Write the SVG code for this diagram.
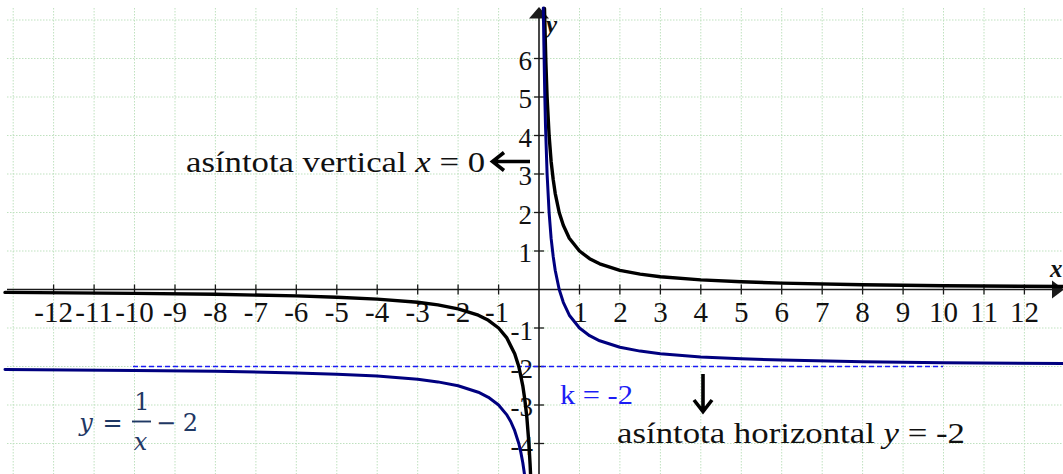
<svg xmlns="http://www.w3.org/2000/svg" width="1063" height="474" viewBox="0 0 1063 474">
<style>
.grid line{stroke:#bfe1bf;stroke-width:1;stroke-dasharray:1.5 1.5}
.axis{stroke:#1a1a1a;stroke-width:1.6;fill:none}
.tick{stroke:#1a1a1a;stroke-width:1.3}
.lab{font-family:"Liberation Serif",serif;fill:#111}
.xl{text-anchor:middle;font-size:29px}
.yl{text-anchor:end;font-size:27px}
.ann{font-family:"Liberation Serif",serif;font-size:29.5px;fill:#111}
.it{font-style:italic}
.black{stroke:#000;stroke-width:3.4;fill:none;stroke-linejoin:round;stroke-linecap:round}
.navy{stroke:#00007f;stroke-width:3;fill:none;stroke-linejoin:round;stroke-linecap:round}
.arr{stroke:#000;stroke-width:3.6;fill:none;stroke-linecap:butt;stroke-linejoin:miter}
.frm{font-family:"DejaVu Serif",serif;font-size:24px;fill:#1f3864;text-anchor:middle}
</style>
<rect x="0" y="0" width="1063" height="474" fill="#ffffff"/>
<g id="grid" class="grid">
<line x1="13.2" y1="8" x2="13.2" y2="474"/><line x1="53.6" y1="8" x2="53.6" y2="474"/><line x1="94.1" y1="8" x2="94.1" y2="474"/><line x1="134.5" y1="8" x2="134.5" y2="474"/><line x1="175" y1="8" x2="175" y2="474"/><line x1="215.4" y1="8" x2="215.4" y2="474"/><line x1="255.9" y1="8" x2="255.9" y2="474"/><line x1="296.3" y1="8" x2="296.3" y2="474"/><line x1="336.8" y1="8" x2="336.8" y2="474"/><line x1="377.2" y1="8" x2="377.2" y2="474"/><line x1="417.7" y1="8" x2="417.7" y2="474"/><line x1="458.1" y1="8" x2="458.1" y2="474"/><line x1="498.6" y1="8" x2="498.6" y2="474"/><line x1="579.5" y1="8" x2="579.5" y2="474"/><line x1="619.9" y1="8" x2="619.9" y2="474"/><line x1="660.4" y1="8" x2="660.4" y2="474"/><line x1="700.8" y1="8" x2="700.8" y2="474"/><line x1="741.3" y1="8" x2="741.3" y2="474"/><line x1="781.7" y1="8" x2="781.7" y2="474"/><line x1="822.2" y1="8" x2="822.2" y2="474"/><line x1="862.6" y1="8" x2="862.6" y2="474"/><line x1="903.1" y1="8" x2="903.1" y2="474"/><line x1="943.5" y1="8" x2="943.5" y2="474"/><line x1="984" y1="8" x2="984" y2="474"/><line x1="1024.4" y1="8" x2="1024.4" y2="474"/>
<line x1="7" y1="20" x2="1063" y2="20"/><line x1="7" y1="58.5" x2="1063" y2="58.5"/><line x1="7" y1="97" x2="1063" y2="97"/><line x1="7" y1="135.5" x2="1063" y2="135.5"/><line x1="7" y1="174" x2="1063" y2="174"/><line x1="7" y1="212.5" x2="1063" y2="212.5"/><line x1="7" y1="251" x2="1063" y2="251"/><line x1="7" y1="328" x2="1063" y2="328"/><line x1="7" y1="366.5" x2="1063" y2="366.5"/><line x1="7" y1="405" x2="1063" y2="405"/><line x1="7" y1="443.5" x2="1063" y2="443.5"/>
</g>
<g id="axes">
<line class="axis" x1="7" y1="289.5" x2="1058" y2="289.5"/>
<line class="axis" x1="539" y1="12" x2="539" y2="474"/>
<polygon points="539,7 529,18.5 549,18.5" fill="#1a1a1a"/>
<polygon points="1064,289.5 1052,280.5 1052,298.5" fill="#1a1a1a"/>
<g class="tick">
<line x1="53.6" y1="284.5" x2="53.6" y2="294.5"/><line x1="94.1" y1="284.5" x2="94.1" y2="294.5"/><line x1="134.5" y1="284.5" x2="134.5" y2="294.5"/><line x1="175" y1="284.5" x2="175" y2="294.5"/><line x1="215.4" y1="284.5" x2="215.4" y2="294.5"/><line x1="255.9" y1="284.5" x2="255.9" y2="294.5"/><line x1="296.3" y1="284.5" x2="296.3" y2="294.5"/><line x1="336.8" y1="284.5" x2="336.8" y2="294.5"/><line x1="377.2" y1="284.5" x2="377.2" y2="294.5"/><line x1="417.7" y1="284.5" x2="417.7" y2="294.5"/><line x1="458.1" y1="284.5" x2="458.1" y2="294.5"/><line x1="498.6" y1="284.5" x2="498.6" y2="294.5"/><line x1="579.5" y1="284.5" x2="579.5" y2="294.5"/><line x1="619.9" y1="284.5" x2="619.9" y2="294.5"/><line x1="660.4" y1="284.5" x2="660.4" y2="294.5"/><line x1="700.8" y1="284.5" x2="700.8" y2="294.5"/><line x1="741.3" y1="284.5" x2="741.3" y2="294.5"/><line x1="781.7" y1="284.5" x2="781.7" y2="294.5"/><line x1="822.2" y1="284.5" x2="822.2" y2="294.5"/><line x1="862.6" y1="284.5" x2="862.6" y2="294.5"/><line x1="903.1" y1="284.5" x2="903.1" y2="294.5"/><line x1="943.5" y1="284.5" x2="943.5" y2="294.5"/><line x1="984" y1="284.5" x2="984" y2="294.5"/><line x1="1024.4" y1="284.5" x2="1024.4" y2="294.5"/>
<line x1="534" y1="58.5" x2="544" y2="58.5"/><line x1="534" y1="97" x2="544" y2="97"/><line x1="534" y1="135.5" x2="544" y2="135.5"/><line x1="534" y1="174" x2="544" y2="174"/><line x1="534" y1="212.5" x2="544" y2="212.5"/><line x1="534" y1="251" x2="544" y2="251"/><line x1="534" y1="328" x2="544" y2="328"/><line x1="534" y1="366.5" x2="544" y2="366.5"/><line x1="534" y1="405" x2="544" y2="405"/><line x1="534" y1="443.5" x2="544" y2="443.5"/>
</g>
<g class="lab xl">
<text x="53.6" y="321.5">-12</text><text x="94.1" y="321.5">-11</text><text x="134.5" y="321.5">-10</text><text x="175" y="321.5">-9</text><text x="215.4" y="321.5">-8</text><text x="255.9" y="321.5">-7</text><text x="296.3" y="321.5">-6</text><text x="336.8" y="321.5">-5</text><text x="377.2" y="321.5">-4</text><text x="417.7" y="321.5">-3</text><text x="458.1" y="321.5">-2</text><text x="497" y="321.5">-1</text>
<text x="580.5" y="321.5">1</text><text x="620.5" y="321.5">2</text><text x="660.4" y="321.5">3</text><text x="700.8" y="321.5">4</text><text x="741.3" y="321.5">5</text><text x="781.7" y="321.5">6</text><text x="822.2" y="321.5">7</text><text x="862.6" y="321.5">8</text><text x="903.1" y="321.5">9</text><text x="943.5" y="321.5">10</text><text x="984" y="321.5">11</text><text x="1024.4" y="321.5">12</text>
</g>
<g class="lab yl">
<text x="532" y="69.5">6</text><text x="532" y="108">5</text><text x="532" y="146.5">4</text><text x="532" y="185">3</text><text x="532" y="223.5">2</text><text x="532" y="262">1</text>
<text x="533" y="340">-1</text><text x="533" y="378">-2</text><text x="533" y="416">-3</text><text x="533" y="455">-4</text>
</g>
<text x="546" y="33" font-family="Liberation Serif, serif" font-size="25" font-style="italic" font-weight="bold" fill="#111">y</text>
<text x="1050" y="277" font-family="Liberation Serif, serif" font-size="25" font-style="italic" font-weight="bold" fill="#111">x</text>
</g>
<g id="asymptote-line">
<line x1="133" y1="366.5" x2="943" y2="366.5" stroke="#1c1cf5" stroke-width="1.6" stroke-dasharray="5 3"/>
</g>
<g id="curve-1-over-x">
<polyline class="black" points="544.5,8.5 545.1,32.8 545.9,63 547.1,97 549.1,135.5 551.1,161.2 553.2,179.5 555.2,193.3 559.2,212.5 563.3,225.3 569.3,238.2 579.5,251 589.6,258.7 599.7,263.8 619.9,270.3 640.1,274.1 660.4,276.7 700.8,279.9 741.3,281.8 781.7,283.1 862.6,284.7 943.5,285.7 1064.9,286.5"/>
<polyline class="black" points="5,292.4 134.5,293.4 215.4,294.3 296.3,295.9 336.8,297.2 377.2,299.1 417.7,302.3 437.9,304.9 458.1,308.8 478.3,315.2 488.4,320.3 498.6,328 506.6,337.6 514.7,353.7 518.8,366.5 522.8,385.8 524.8,399.5 526.9,417.8 528.9,443.5 530.1,464.5 530.7,477.3"/>
</g>
<g id="curve-1-over-x-minus-2">
<polyline class="navy" points="543.3,8.1 543.9,45.7 544.7,91.5 545.5,125.9 547.1,174 549.1,212.5 551.1,238.2 553.2,256.5 555.2,270.3 559.2,289.5 563.3,302.3 569.3,315.2 579.5,328 589.6,335.7 599.7,340.8 619.9,347.3 640.1,351.1 660.4,353.7 700.8,356.9 741.3,358.8 781.7,360.1 862.6,361.7 943.5,362.7 1064.9,363.5"/>
<polyline class="navy" points="5,369.4 134.5,370.4 215.4,371.3 296.3,372.9 336.8,374.2 377.2,376.1 417.7,379.3 437.9,381.9 458.1,385.8 478.3,392.2 488.4,397.3 498.6,405 506.6,414.6 510.7,421.5 514.7,430.7 518.8,443.5 520.8,452.1 522.8,462.8 524.6,475"/>
</g>
<g id="label-vertical">
<text class="ann" x="186" y="171.5" textLength="299" lengthAdjust="spacingAndGlyphs">asíntota vertical <tspan class="it">x</tspan> = 0</text>
<path class="arr" d="M530,161.5 H494 M504,152.5 L492.5,161.5 L504,170.5"/>
</g>
<g id="label-k">
<text x="560" y="404" font-family="Liberation Serif, serif" font-size="28" fill="#1c1cf5" textLength="73" lengthAdjust="spacingAndGlyphs">k = -2</text>
</g>
<g id="label-horizontal">
<path class="arr" d="M703,374 V409 M694,400 L703,411.5 L712,400"/>
<text class="ann" x="617" y="442.5" textLength="348" lengthAdjust="spacingAndGlyphs">asíntota horizontal <tspan class="it">y</tspan> = -2</text>
</g>
<g id="formula">
<text class="frm" x="86" y="430.5" font-style="italic">y</text>
<text class="frm" x="112.5" y="430.5">=</text>
<text class="frm" x="142" y="410">1</text>
<line x1="132" y1="421.5" x2="151" y2="421.5" stroke="#1f3864" stroke-width="1.9"/>
<text class="frm" x="140.5" y="450" font-style="italic">x</text>
<text class="frm" x="166" y="430.5">−</text>
<text class="frm" x="190.5" y="430.5">2</text>
</g>
</svg>
